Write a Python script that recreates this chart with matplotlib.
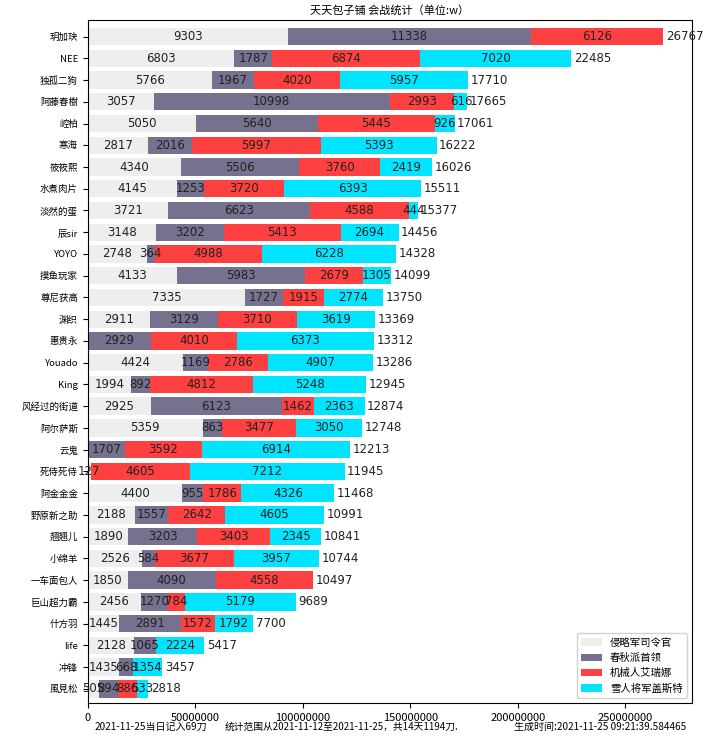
import numpy as np
import matplotlib
matplotlib.use("Agg")
import matplotlib.pyplot as plt

plt.rcParams['font.family'] = ['Noto Sans CJK SC', 'DejaVu Sans']

# values in units of w (10000)
names = ["玥加玦", "NEE", "独孤二狗", "阿藤春樹", "崆柏", "寒海", "筱筱熙", "水煮肉片",
         "淡然的蛋", "辰sir", "YOYO", "摸鱼玩家", "尊尼获高", "渊织", "惠贵永", "Youado",
         "King", "风经过的街道", "阿尔萨斯", "云鬼", "死侍死侍", "阿金金金", "野原新之助",
         "翘翘儿", "小绵羊", "一车面包人", "巨山超力霸", "什方羽", "life", "冲锋", "風見松"]
invader = [9303, 6803, 5766, 3057, 5050, 2817, 4340, 4145, 3721, 3148, 2748, 4133, 7335, 2911, 0,
           4424, 1994, 2925, 5359, 0, 127, 4400, 2188, 1890, 2526, 1850, 2456, 1445, 2128, 1435, 505]
chunqiu = [11338, 1787, 1967, 10998, 5640, 2016, 5506, 1253, 6623, 3202, 364, 5983, 1727, 3129, 2929,
           1169, 892, 6123, 863, 1707, 0, 955, 1557, 3203, 584, 4090, 1270, 2891, 1065, 668, 894]
robot = [6126, 6874, 4020, 2993, 5445, 5997, 3760, 3720, 4588, 5413, 4988, 2679, 1915, 3710, 4010,
         2786, 4812, 1462, 3477, 3592, 4605, 1786, 2642, 3403, 3677, 4558, 784, 1572, 0, 0, 886]
snowman = [0, 7020, 5957, 616, 926, 5393, 2419, 6393, 444, 2694, 6228, 1305, 2774, 3619, 6373,
           4907, 5248, 2363, 3050, 6914, 7212, 4326, 4605, 2345, 3957, 0, 5179, 1792, 2224, 1354, 533]
totals = [26767, 22485, 17710, 17665, 17061, 16222, 16026, 15511, 15377, 14456, 14328, 14099, 13750,
          13369, 13312, 13286, 12945, 12874, 12748, 12213, 11945, 11468, 10991, 10841, 10744, 10497,
          9689, 7700, 5417, 3457, 2818]
xticks = [0, 50000000, 100000000, 150000000, 200000000, 250000000]

series = [("侵略军司令官", invader, "#eeeeee"),
          ("春秋派首领", chunqiu, "#76718f"),
          ("机械人艾瑞娜", robot, "#ff4040"),
          ("雪人将军盖斯特", snowman, "#00e5ff")]

fig = plt.figure(figsize=(7.2, 7.42), dpi=100)
ax = fig.add_axes([0.122, 0.0526, 0.839, 0.921])

y = np.arange(len(names))
left = np.zeros(len(names))
for label, vals, color in series:
    v = np.array(vals) * 10000.0
    bars = ax.barh(y, v, left=left, color=color, label=label, height=0.8)
    texts = [str(int(x)) if x > 0 else "" for x in vals]
    ax.bar_label(bars, labels=texts, label_type="center", fontsize=8.5,
                 family="DejaVu Sans", color="#222222")
    left += v

# totals at the end of each bar
for i, t in enumerate(totals):
    ax.text(left[i] + 1.2e6, i, str(t), va="center", ha="left", fontsize=8.5,
            family="DejaVu Sans", color="#222222")

ax.set_yticks(y)
ax.set_yticklabels(names, fontsize=6.8)
ax.set_ylim(len(names) - 0.35, -0.78)
ax.set_xlim(0, max(totals) * 10000 * 1.05)
ax.set_xticks(xticks)
ax.set_xticklabels([str(t) for t in xticks], fontsize=8)
ax.set_title("天天包子铺 会战统计（单位:w）", fontsize=8, pad=4)

ax.legend(loc="lower right", fontsize=7.5, framealpha=0.9)

fig.text(0.131, 0.02, "2021-11-25当日记入69刀", fontsize=7.2, va="center")
fig.text(0.312, 0.02, "统计范围从2021-11-12至2021-11-25，共14天1194刀.", fontsize=7.0, va="center")
fig.text(0.714, 0.02, "生成时间:2021-11-25 09:21:39.584465", fontsize=7.2, va="center")

fig.savefig("out.png", dpi=100)
